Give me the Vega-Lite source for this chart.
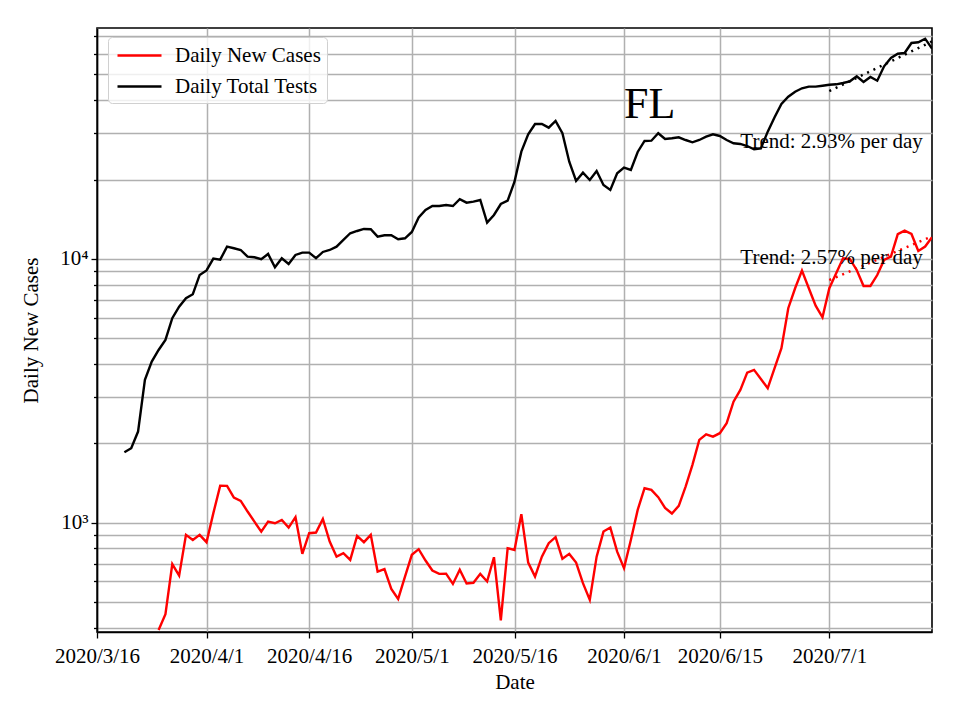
{
  "$schema": "https://vega.github.io/schema/vega-lite/v6.json",
  "width": 835,
  "height": 604,
  "autosize": {"type": "none"},
  "padding": {"left": 97, "top": 28, "right": 28, "bottom": 88},
  "background": "white",
  "config": {
    "font": "Liberation Serif",
    "view": {"stroke": "#000000", "strokeWidth": 1.6},
    "axis": {
      "labelFont": "Liberation Serif",
      "titleFont": "Liberation Serif",
      "labelFontSize": 21,
      "titleFontSize": 21,
      "titleFontWeight": "normal",
      "labelColor": "#000000",
      "titleColor": "#000000",
      "tickColor": "#000000",
      "tickWidth": 1.3,
      "domainColor": "#000000",
      "domainWidth": 1.6,
      "gridColor": "#b0b0b0",
      "gridWidth": 1.5,
      "gridOpacity": 1,
      "labelOverlap": false,
      "labelFlush": false
    }
  },
  "datasets": {
    "main": [
      {"date": "2020-03-25", "value": 393, "series": "Daily New Cases"},
      {"date": "2020-03-26", "value": 451, "series": "Daily New Cases"},
      {"date": "2020-03-27", "value": 698, "series": "Daily New Cases"},
      {"date": "2020-03-28", "value": 631, "series": "Daily New Cases"},
      {"date": "2020-03-29", "value": 901, "series": "Daily New Cases"},
      {"date": "2020-03-30", "value": 862, "series": "Daily New Cases"},
      {"date": "2020-03-31", "value": 901, "series": "Daily New Cases"},
      {"date": "2020-04-01", "value": 845, "series": "Daily New Cases"},
      {"date": "2020-04-02", "value": 1089, "series": "Daily New Cases"},
      {"date": "2020-04-03", "value": 1384, "series": "Daily New Cases"},
      {"date": "2020-04-04", "value": 1381, "series": "Daily New Cases"},
      {"date": "2020-04-05", "value": 1247, "series": "Daily New Cases"},
      {"date": "2020-04-06", "value": 1211, "series": "Daily New Cases"},
      {"date": "2020-04-07", "value": 1104, "series": "Daily New Cases"},
      {"date": "2020-04-08", "value": 1011, "series": "Daily New Cases"},
      {"date": "2020-04-09", "value": 927, "series": "Daily New Cases"},
      {"date": "2020-04-10", "value": 1011, "series": "Daily New Cases"},
      {"date": "2020-04-11", "value": 997, "series": "Daily New Cases"},
      {"date": "2020-04-12", "value": 1026, "series": "Daily New Cases"},
      {"date": "2020-04-13", "value": 960, "series": "Daily New Cases"},
      {"date": "2020-04-14", "value": 1051, "series": "Daily New Cases"},
      {"date": "2020-04-15", "value": 763, "series": "Daily New Cases"},
      {"date": "2020-04-16", "value": 914, "series": "Daily New Cases"},
      {"date": "2020-04-17", "value": 919, "series": "Daily New Cases"},
      {"date": "2020-04-18", "value": 1035, "series": "Daily New Cases"},
      {"date": "2020-04-19", "value": 850, "series": "Daily New Cases"},
      {"date": "2020-04-20", "value": 745, "series": "Daily New Cases"},
      {"date": "2020-04-21", "value": 768, "series": "Daily New Cases"},
      {"date": "2020-04-22", "value": 724, "series": "Daily New Cases"},
      {"date": "2020-04-23", "value": 893, "series": "Daily New Cases"},
      {"date": "2020-04-24", "value": 845, "series": "Daily New Cases"},
      {"date": "2020-04-25", "value": 901, "series": "Daily New Cases"},
      {"date": "2020-04-26", "value": 654, "series": "Daily New Cases"},
      {"date": "2020-04-27", "value": 668, "series": "Daily New Cases"},
      {"date": "2020-04-28", "value": 562, "series": "Daily New Cases"},
      {"date": "2020-04-29", "value": 515, "series": "Daily New Cases"},
      {"date": "2020-04-30", "value": 626, "series": "Daily New Cases"},
      {"date": "2020-05-01", "value": 757, "series": "Daily New Cases"},
      {"date": "2020-05-02", "value": 795, "series": "Daily New Cases"},
      {"date": "2020-05-03", "value": 720, "series": "Daily New Cases"},
      {"date": "2020-05-04", "value": 660, "series": "Daily New Cases"},
      {"date": "2020-05-05", "value": 641, "series": "Daily New Cases"},
      {"date": "2020-05-06", "value": 642, "series": "Daily New Cases"},
      {"date": "2020-05-07", "value": 587, "series": "Daily New Cases"},
      {"date": "2020-05-08", "value": 664, "series": "Daily New Cases"},
      {"date": "2020-05-09", "value": 589, "series": "Daily New Cases"},
      {"date": "2020-05-10", "value": 593, "series": "Daily New Cases"},
      {"date": "2020-05-11", "value": 641, "series": "Daily New Cases"},
      {"date": "2020-05-12", "value": 600, "series": "Daily New Cases"},
      {"date": "2020-05-13", "value": 741, "series": "Daily New Cases"},
      {"date": "2020-05-14", "value": 427, "series": "Daily New Cases"},
      {"date": "2020-05-15", "value": 802, "series": "Daily New Cases"},
      {"date": "2020-05-16", "value": 790, "series": "Daily New Cases"},
      {"date": "2020-05-17", "value": 1079, "series": "Daily New Cases"},
      {"date": "2020-05-18", "value": 707, "series": "Daily New Cases"},
      {"date": "2020-05-19", "value": 626, "series": "Daily New Cases"},
      {"date": "2020-05-20", "value": 745, "series": "Daily New Cases"},
      {"date": "2020-05-21", "value": 838, "series": "Daily New Cases"},
      {"date": "2020-05-22", "value": 883, "series": "Daily New Cases"},
      {"date": "2020-05-23", "value": 731, "series": "Daily New Cases"},
      {"date": "2020-05-24", "value": 763, "series": "Daily New Cases"},
      {"date": "2020-05-25", "value": 707, "series": "Daily New Cases"},
      {"date": "2020-05-26", "value": 591, "series": "Daily New Cases"},
      {"date": "2020-05-27", "value": 511, "series": "Daily New Cases"},
      {"date": "2020-05-28", "value": 745, "series": "Daily New Cases"},
      {"date": "2020-05-29", "value": 927, "series": "Daily New Cases"},
      {"date": "2020-05-30", "value": 960, "series": "Daily New Cases"},
      {"date": "2020-05-31", "value": 778, "series": "Daily New Cases"},
      {"date": "2020-06-01", "value": 674, "series": "Daily New Cases"},
      {"date": "2020-06-02", "value": 862, "series": "Daily New Cases"},
      {"date": "2020-06-03", "value": 1120, "series": "Daily New Cases"},
      {"date": "2020-06-04", "value": 1353, "series": "Daily New Cases"},
      {"date": "2020-06-05", "value": 1334, "series": "Daily New Cases"},
      {"date": "2020-06-06", "value": 1251, "series": "Daily New Cases"},
      {"date": "2020-06-07", "value": 1140, "series": "Daily New Cases"},
      {"date": "2020-06-08", "value": 1085, "series": "Daily New Cases"},
      {"date": "2020-06-09", "value": 1160, "series": "Daily New Cases"},
      {"date": "2020-06-10", "value": 1373, "series": "Daily New Cases"},
      {"date": "2020-06-11", "value": 1659, "series": "Daily New Cases"},
      {"date": "2020-06-12", "value": 2062, "series": "Daily New Cases"},
      {"date": "2020-06-13", "value": 2167, "series": "Daily New Cases"},
      {"date": "2020-06-14", "value": 2123, "series": "Daily New Cases"},
      {"date": "2020-06-15", "value": 2187, "series": "Daily New Cases"},
      {"date": "2020-06-16", "value": 2386, "series": "Daily New Cases"},
      {"date": "2020-06-17", "value": 2879, "series": "Daily New Cases"},
      {"date": "2020-06-18", "value": 3190, "series": "Daily New Cases"},
      {"date": "2020-06-19", "value": 3709, "series": "Daily New Cases"},
      {"date": "2020-06-20", "value": 3800, "series": "Daily New Cases"},
      {"date": "2020-06-21", "value": 3510, "series": "Daily New Cases"},
      {"date": "2020-06-22", "value": 3237, "series": "Daily New Cases"},
      {"date": "2020-06-23", "value": 3855, "series": "Daily New Cases"},
      {"date": "2020-06-24", "value": 4588, "series": "Daily New Cases"},
      {"date": "2020-06-25", "value": 6506, "series": "Daily New Cases"},
      {"date": "2020-06-26", "value": 7745, "series": "Daily New Cases"},
      {"date": "2020-06-27", "value": 9031, "series": "Daily New Cases"},
      {"date": "2020-06-28", "value": 7745, "series": "Daily New Cases"},
      {"date": "2020-06-29", "value": 6653, "series": "Daily New Cases"},
      {"date": "2020-06-30", "value": 6012, "series": "Daily New Cases"},
      {"date": "2020-07-01", "value": 7745, "series": "Daily New Cases"},
      {"date": "2020-07-02", "value": 8830, "series": "Daily New Cases"},
      {"date": "2020-07-03", "value": 10064, "series": "Daily New Cases"},
      {"date": "2020-07-04", "value": 9980, "series": "Daily New Cases"},
      {"date": "2020-07-05", "value": 9085, "series": "Daily New Cases"},
      {"date": "2020-07-06", "value": 7900, "series": "Daily New Cases"},
      {"date": "2020-07-07", "value": 7900, "series": "Daily New Cases"},
      {"date": "2020-07-08", "value": 8693, "series": "Daily New Cases"},
      {"date": "2020-07-09", "value": 9913, "series": "Daily New Cases"},
      {"date": "2020-07-10", "value": 10206, "series": "Daily New Cases"},
      {"date": "2020-07-11", "value": 12410, "series": "Daily New Cases"},
      {"date": "2020-07-12", "value": 12800, "series": "Daily New Cases"},
      {"date": "2020-07-13", "value": 12440, "series": "Daily New Cases"},
      {"date": "2020-07-14", "value": 10720, "series": "Daily New Cases"},
      {"date": "2020-07-15", "value": 11140, "series": "Daily New Cases"},
      {"date": "2020-07-16", "value": 12090, "series": "Daily New Cases"},
      {"date": "2020-03-20", "value": 1853, "series": "Daily Total Tests"},
      {"date": "2020-03-21", "value": 1919, "series": "Daily Total Tests"},
      {"date": "2020-03-22", "value": 2218, "series": "Daily Total Tests"},
      {"date": "2020-03-23", "value": 3483, "series": "Daily Total Tests"},
      {"date": "2020-03-24", "value": 4083, "series": "Daily Total Tests"},
      {"date": "2020-03-25", "value": 4519, "series": "Daily Total Tests"},
      {"date": "2020-03-26", "value": 4934, "series": "Daily Total Tests"},
      {"date": "2020-03-27", "value": 5963, "series": "Daily Total Tests"},
      {"date": "2020-03-28", "value": 6597, "series": "Daily Total Tests"},
      {"date": "2020-03-29", "value": 7098, "series": "Daily Total Tests"},
      {"date": "2020-03-30", "value": 7351, "series": "Daily Total Tests"},
      {"date": "2020-03-31", "value": 8697, "series": "Daily Total Tests"},
      {"date": "2020-04-01", "value": 9046, "series": "Daily Total Tests"},
      {"date": "2020-04-02", "value": 10025, "series": "Daily Total Tests"},
      {"date": "2020-04-03", "value": 9938, "series": "Daily Total Tests"},
      {"date": "2020-04-04", "value": 11131, "series": "Daily Total Tests"},
      {"date": "2020-04-05", "value": 10978, "series": "Daily Total Tests"},
      {"date": "2020-04-06", "value": 10816, "series": "Daily Total Tests"},
      {"date": "2020-04-07", "value": 10202, "series": "Daily Total Tests"},
      {"date": "2020-04-08", "value": 10149, "series": "Daily Total Tests"},
      {"date": "2020-04-09", "value": 9974, "series": "Daily Total Tests"},
      {"date": "2020-04-10", "value": 10446, "series": "Daily Total Tests"},
      {"date": "2020-04-11", "value": 9302, "series": "Daily Total Tests"},
      {"date": "2020-04-12", "value": 10062, "series": "Daily Total Tests"},
      {"date": "2020-04-13", "value": 9574, "series": "Daily Total Tests"},
      {"date": "2020-04-14", "value": 10356, "series": "Daily Total Tests"},
      {"date": "2020-04-15", "value": 10566, "series": "Daily Total Tests"},
      {"date": "2020-04-16", "value": 10566, "series": "Daily Total Tests"},
      {"date": "2020-04-17", "value": 10062, "series": "Daily Total Tests"},
      {"date": "2020-04-18", "value": 10629, "series": "Daily Total Tests"},
      {"date": "2020-04-19", "value": 10816, "series": "Daily Total Tests"},
      {"date": "2020-04-20", "value": 11131, "series": "Daily Total Tests"},
      {"date": "2020-04-21", "value": 11803, "series": "Daily Total Tests"},
      {"date": "2020-04-22", "value": 12513, "series": "Daily Total Tests"},
      {"date": "2020-04-23", "value": 12765, "series": "Daily Total Tests"},
      {"date": "2020-04-24", "value": 12990, "series": "Daily Total Tests"},
      {"date": "2020-04-25", "value": 12956, "series": "Daily Total Tests"},
      {"date": "2020-04-26", "value": 12146, "series": "Daily Total Tests"},
      {"date": "2020-04-27", "value": 12295, "series": "Daily Total Tests"},
      {"date": "2020-04-28", "value": 12295, "series": "Daily Total Tests"},
      {"date": "2020-04-29", "value": 11873, "series": "Daily Total Tests"},
      {"date": "2020-04-30", "value": 11978, "series": "Daily Total Tests"},
      {"date": "2020-05-01", "value": 12657, "series": "Daily Total Tests"},
      {"date": "2020-05-02", "value": 14363, "series": "Daily Total Tests"},
      {"date": "2020-05-03", "value": 15327, "series": "Daily Total Tests"},
      {"date": "2020-05-04", "value": 15873, "series": "Daily Total Tests"},
      {"date": "2020-05-05", "value": 15873, "series": "Daily Total Tests"},
      {"date": "2020-05-06", "value": 16010, "series": "Daily Total Tests"},
      {"date": "2020-05-07", "value": 15873, "series": "Daily Total Tests"},
      {"date": "2020-05-08", "value": 16835, "series": "Daily Total Tests"},
      {"date": "2020-05-09", "value": 16343, "series": "Daily Total Tests"},
      {"date": "2020-05-10", "value": 16482, "series": "Daily Total Tests"},
      {"date": "2020-05-11", "value": 16730, "series": "Daily Total Tests"},
      {"date": "2020-05-12", "value": 13725, "series": "Daily Total Tests"},
      {"date": "2020-05-13", "value": 14677, "series": "Daily Total Tests"},
      {"date": "2020-05-14", "value": 16153, "series": "Daily Total Tests"},
      {"date": "2020-05-15", "value": 16630, "series": "Daily Total Tests"},
      {"date": "2020-05-16", "value": 19627, "series": "Daily Total Tests"},
      {"date": "2020-05-17", "value": 25495, "series": "Daily Total Tests"},
      {"date": "2020-05-18", "value": 29677, "series": "Daily Total Tests"},
      {"date": "2020-05-19", "value": 32460, "series": "Daily Total Tests"},
      {"date": "2020-05-20", "value": 32460, "series": "Daily Total Tests"},
      {"date": "2020-05-21", "value": 31440, "series": "Daily Total Tests"},
      {"date": "2020-05-22", "value": 33320, "series": "Daily Total Tests"},
      {"date": "2020-05-23", "value": 29937, "series": "Daily Total Tests"},
      {"date": "2020-05-24", "value": 23365, "series": "Daily Total Tests"},
      {"date": "2020-05-25", "value": 19750, "series": "Daily Total Tests"},
      {"date": "2020-05-26", "value": 21230, "series": "Daily Total Tests"},
      {"date": "2020-05-27", "value": 19920, "series": "Daily Total Tests"},
      {"date": "2020-05-28", "value": 21540, "series": "Daily Total Tests"},
      {"date": "2020-05-29", "value": 19070, "series": "Daily Total Tests"},
      {"date": "2020-05-30", "value": 18256, "series": "Daily Total Tests"},
      {"date": "2020-05-31", "value": 21120, "series": "Daily Total Tests"},
      {"date": "2020-06-01", "value": 22175, "series": "Daily Total Tests"},
      {"date": "2020-06-02", "value": 21735, "series": "Daily Total Tests"},
      {"date": "2020-06-03", "value": 25430, "series": "Daily Total Tests"},
      {"date": "2020-06-04", "value": 27990, "series": "Daily Total Tests"},
      {"date": "2020-06-05", "value": 28060, "series": "Daily Total Tests"},
      {"date": "2020-06-06", "value": 29937, "series": "Daily Total Tests"},
      {"date": "2020-06-07", "value": 28480, "series": "Daily Total Tests"},
      {"date": "2020-06-08", "value": 28660, "series": "Daily Total Tests"},
      {"date": "2020-06-09", "value": 28900, "series": "Daily Total Tests"},
      {"date": "2020-06-10", "value": 28230, "series": "Daily Total Tests"},
      {"date": "2020-06-11", "value": 27670, "series": "Daily Total Tests"},
      {"date": "2020-06-12", "value": 28230, "series": "Daily Total Tests"},
      {"date": "2020-06-13", "value": 29060, "series": "Daily Total Tests"},
      {"date": "2020-06-14", "value": 29677, "series": "Daily Total Tests"},
      {"date": "2020-06-15", "value": 29240, "series": "Daily Total Tests"},
      {"date": "2020-06-16", "value": 28230, "series": "Daily Total Tests"},
      {"date": "2020-06-17", "value": 27440, "series": "Daily Total Tests"},
      {"date": "2020-06-18", "value": 27270, "series": "Daily Total Tests"},
      {"date": "2020-06-19", "value": 26790, "series": "Daily Total Tests"},
      {"date": "2020-06-20", "value": 26030, "series": "Daily Total Tests"},
      {"date": "2020-06-21", "value": 26260, "series": "Daily Total Tests"},
      {"date": "2020-06-22", "value": 30360, "series": "Daily Total Tests"},
      {"date": "2020-06-23", "value": 34420, "series": "Daily Total Tests"},
      {"date": "2020-06-24", "value": 38650, "series": "Daily Total Tests"},
      {"date": "2020-06-25", "value": 41200, "series": "Daily Total Tests"},
      {"date": "2020-06-26", "value": 43030, "series": "Daily Total Tests"},
      {"date": "2020-06-27", "value": 44330, "series": "Daily Total Tests"},
      {"date": "2020-06-28", "value": 44960, "series": "Daily Total Tests"},
      {"date": "2020-06-29", "value": 44960, "series": "Daily Total Tests"},
      {"date": "2020-06-30", "value": 45340, "series": "Daily Total Tests"},
      {"date": "2020-07-01", "value": 45700, "series": "Daily Total Tests"},
      {"date": "2020-07-02", "value": 45890, "series": "Daily Total Tests"},
      {"date": "2020-07-03", "value": 46420, "series": "Daily Total Tests"},
      {"date": "2020-07-04", "value": 47110, "series": "Daily Total Tests"},
      {"date": "2020-07-05", "value": 49200, "series": "Daily Total Tests"},
      {"date": "2020-07-06", "value": 46830, "series": "Daily Total Tests"},
      {"date": "2020-07-07", "value": 48910, "series": "Daily Total Tests"},
      {"date": "2020-07-08", "value": 47360, "series": "Daily Total Tests"},
      {"date": "2020-07-09", "value": 53700, "series": "Daily Total Tests"},
      {"date": "2020-07-10", "value": 57730, "series": "Daily Total Tests"},
      {"date": "2020-07-11", "value": 59940, "series": "Daily Total Tests"},
      {"date": "2020-07-12", "value": 60300, "series": "Daily Total Tests"},
      {"date": "2020-07-13", "value": 65800, "series": "Daily Total Tests"},
      {"date": "2020-07-14", "value": 66200, "series": "Daily Total Tests"},
      {"date": "2020-07-15", "value": 68320, "series": "Daily Total Tests"},
      {"date": "2020-07-16", "value": 62610, "series": "Daily Total Tests"}
    ],
    "trendCases": [
      {"date": "2020-07-01", "value": 8320},
      {"date": "2020-07-16", "value": 12175}
    ],
    "trendTests": [
      {"date": "2020-07-01", "value": 43250},
      {"date": "2020-07-16", "value": 66690}
    ],
    "stateName": [
      {"date": "2020-06-01", "value": 34200, "note": "FL"}
    ],
    "trendNotes": [
      {"date": "2020-06-18", "value": 26400, "note": "Trend: 2.93% per day"},
      {"date": "2020-06-18", "value": 9557, "note": "Trend: 2.57% per day"}
    ]
  },
  "layer": [
    {
      "data": {"name": "main", "format": {"parse": {"date": "date:'%Y-%m-%d'"}}},
      "mark": {"type": "line", "strokeWidth": 2.4, "clip": true},
      "encoding": {
        "x": {
          "field": "date",
          "type": "temporal",
          "scale": {"domain": [{"year": 2020, "month": 3, "date": 16}, {"year": 2020, "month": 7, "date": 16}]},
          "axis": {
            "title": "Date",
            "format": "%Y/%-m/%-d",
            "values": [
              {"year": 2020, "month": 3, "date": 16},
              {"year": 2020, "month": 4, "date": 1},
              {"year": 2020, "month": 4, "date": 16},
              {"year": 2020, "month": 5, "date": 1},
              {"year": 2020, "month": 5, "date": 16},
              {"year": 2020, "month": 6, "date": 1},
              {"year": 2020, "month": 6, "date": 15},
              {"year": 2020, "month": 7, "date": 1}
            ],
            "tickSize": 6,
            "labelPadding": 7,
            "titlePadding": 5,
            "grid": true
          }
        },
        "y": {
          "field": "value",
          "type": "quantitative",
          "scale": {"type": "log", "domain": [386, 75000], "nice": false},
          "axis": {
            "title": "Daily New Cases",
            "values": [400, 500, 600, 700, 800, 900, 1000, 2000, 3000, 4000, 5000, 6000, 7000, 8000, 9000, 10000, 20000, 30000, 40000, 50000, 60000, 70000],
            "labelExpr": "datum.value == 1000 ? '10³' : (datum.value == 10000 ? '10⁴' : '')",
            "tickSize": {"condition": {"test": "datum.value == 1000 || datum.value == 10000", "value": 6}, "value": 3.5},
            "labelPadding": 3,
            "titlePadding": 18,
            "grid": true
          }
        },
        "color": {
          "field": "series",
          "type": "nominal",
          "scale": {"domain": ["Daily New Cases", "Daily Total Tests"], "range": ["#ff0000", "#000000"]},
          "legend": {
            "title": null,
            "orient": "none",
            "legendX": 11,
            "legendY": 9,
            "symbolType": "M-2,0H2",
            "symbolSize": 484,
            "symbolStrokeWidth": 2.4,
            "symbolOffset": 13,
            "labelOffset": 23,
            "labelFont": "Liberation Serif",
            "labelFontSize": 21,
            "labelColor": "#000000",
            "rowPadding": 8,
            "padding": 6,
            "fillColor": "rgba(255,255,255,0.8)",
            "strokeColor": "#d0d0d0",
            "cornerRadius": 4
          }
        }
      }
    },
    {
      "data": {"name": "trendCases", "format": {"parse": {"date": "date:'%Y-%m-%d'"}}},
      "mark": {"type": "line", "color": "#ff0000", "strokeWidth": 2.5, "strokeDash": [2, 5]},
      "encoding": {
        "x": {"field": "date", "type": "temporal"},
        "y": {"field": "value", "type": "quantitative"}
      }
    },
    {
      "data": {"name": "trendTests", "format": {"parse": {"date": "date:'%Y-%m-%d'"}}},
      "mark": {"type": "line", "color": "#000000", "strokeWidth": 2.5, "strokeDash": [2, 5]},
      "encoding": {
        "x": {"field": "date", "type": "temporal"},
        "y": {"field": "value", "type": "quantitative"}
      }
    },
    {
      "data": {"name": "stateName", "format": {"parse": {"date": "date:'%Y-%m-%d'"}}},
      "mark": {"type": "text", "align": "left", "baseline": "alphabetic", "font": "Liberation Serif", "fontSize": 44, "color": "#000000"},
      "encoding": {
        "x": {"field": "date", "type": "temporal"},
        "y": {"field": "value", "type": "quantitative"},
        "text": {"field": "note", "type": "nominal"}
      }
    },
    {
      "data": {"name": "trendNotes", "format": {"parse": {"date": "date:'%Y-%m-%d'"}}},
      "mark": {"type": "text", "align": "left", "baseline": "alphabetic", "font": "Liberation Serif", "fontSize": 21, "color": "#000000"},
      "encoding": {
        "x": {"field": "date", "type": "temporal"},
        "y": {"field": "value", "type": "quantitative"},
        "text": {"field": "note", "type": "nominal"}
      }
    }
  ]
}
